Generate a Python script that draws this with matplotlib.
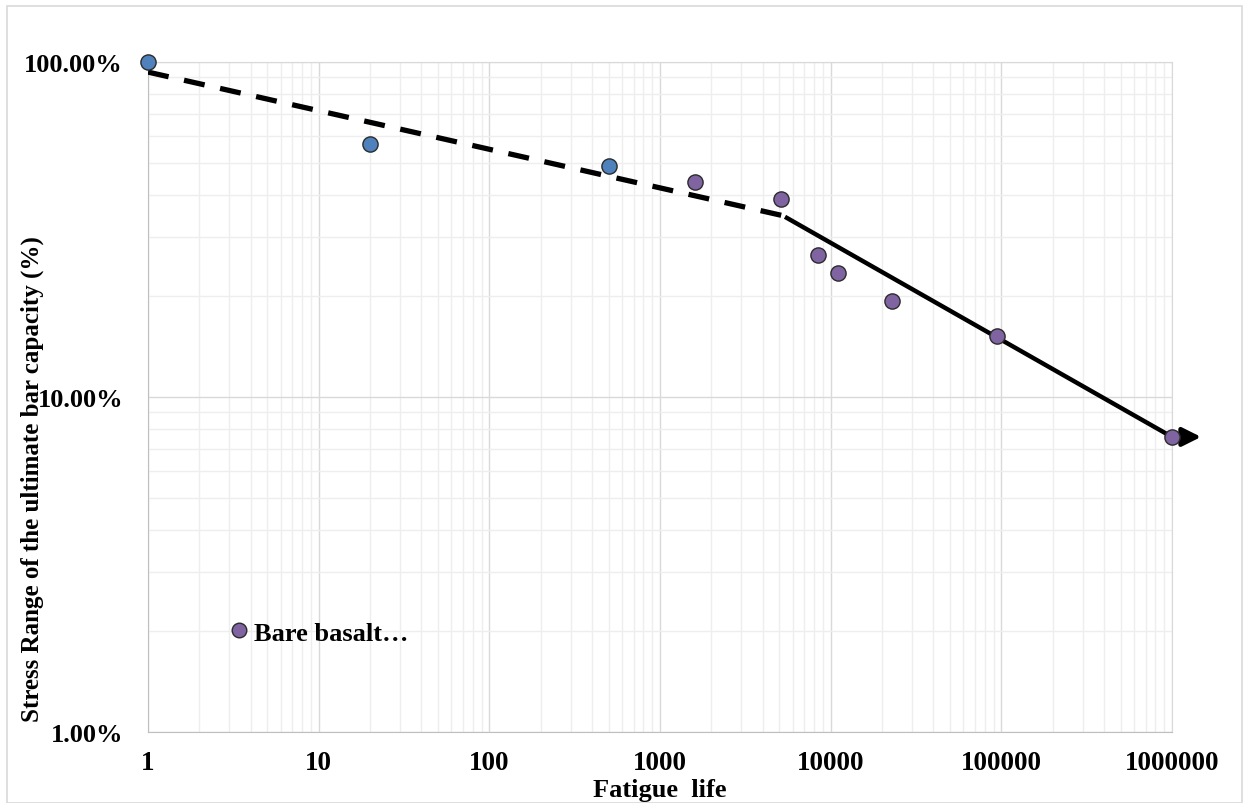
import matplotlib
matplotlib.use("Agg")
import matplotlib.pyplot as plt
from matplotlib.ticker import FixedLocator, FuncFormatter, LogLocator, NullFormatter
from matplotlib.lines import Line2D
from matplotlib.patches import Rectangle

plt.rcParams['font.family'] = ['Liberation Serif', 'DejaVu Serif']
plt.rcParams['font.weight'] = 'bold'

# Data
blue_life = [1, 20, 500]
blue_stress = [1.00, 0.569, 0.489]
purple_life = [1600, 5100, 8400, 11000, 22800, 94000, 1000000]
purple_stress = [0.438, 0.390, 0.265, 0.235, 0.194, 0.152, 0.076]
dash_life = [1, 5770]
dash_stress = [0.933, 0.344]
solid_life = [5400, 1000000]
solid_stress = [0.345, 0.076]
arrow_end_life = 1.48e6
legend_label = "Bare basalt…"
x_ticks = [1, 10, 100, 1000, 10000, 100000, 1000000]
y_ticks = [0.01, 0.1, 1.0]

fig = plt.figure(figsize=(12.44, 8.04), dpi=100)
ax = fig.add_axes([148/1244, 1-733/804, 1024/1244, 670/804])
ax.set_xscale('log')
ax.set_yscale('log')
ax.set_xlim(1, 1e6)
ax.set_ylim(0.01, 1.0)

ax.grid(True, which='major', color='#d9d9d9', lw=1.0)
ax.grid(True, which='minor', color='#eeeeee', lw=1.0)
ax.set_axisbelow(True)
ax.xaxis.set_minor_locator(LogLocator(base=10, subs=range(2, 10), numticks=20))
ax.yaxis.set_minor_locator(LogLocator(base=10, subs=range(2, 10), numticks=20))
ax.xaxis.set_minor_formatter(NullFormatter())
ax.yaxis.set_minor_formatter(NullFormatter())
ax.xaxis.set_major_locator(FixedLocator(x_ticks))
ax.yaxis.set_major_locator(FixedLocator(y_ticks))
ax.xaxis.set_major_formatter(FuncFormatter(lambda v, p: f"{int(round(v))}"))
ax.yaxis.set_major_formatter(FuncFormatter(lambda v, p: f"{v*100:.2f}%"))
ax.tick_params(which='both', length=0)
ax.tick_params(axis='x', pad=13, labelsize=19.5)
ax.tick_params(axis='y', pad=18, labelsize=19)
for s in ax.spines.values():
    s.set_color('#d9d9d9')
for s in ['left', 'bottom']:
    ax.spines[s].set_color('#bfbfbf')

ax.plot(dash_life, dash_stress, color='black', lw=3.8, dashes=(4, 3.0),
        solid_capstyle='butt', zorder=3)
ax.plot(solid_life, solid_stress, color='black', lw=3.2, zorder=3,
        solid_capstyle='butt')
ax.annotate('', xy=(arrow_end_life, solid_stress[-1]),
            xytext=(solid_life[-1], solid_stress[-1]),
            arrowprops=dict(arrowstyle='-|>', color='black', lw=3.2,
                            mutation_scale=28, shrinkA=0, shrinkB=0),
            annotation_clip=False, zorder=4)

ax.scatter(blue_life, blue_stress, s=120, color='#4f81bd', edgecolor='#2b2b2b',
           lw=1.0, zorder=5, clip_on=False)
ax.scatter(purple_life, purple_stress, s=120, color='#8064a2', edgecolor='#2b2b2b',
           lw=1.0, zorder=5, clip_on=False)

h = Line2D([], [], marker='o', ls='none', markersize=10.5,
           markerfacecolor='#8064a2', markeredgecolor='#2b2b2b', markeredgewidth=1.0)
ax.legend([h], [legend_label], loc='center left', bbox_to_anchor=(0.076, 0.148),
          frameon=False, handletextpad=0.05, borderpad=0,
          borderaxespad=0, handlelength=1.0,
          prop={'family': 'Liberation Serif', 'weight': 'bold', 'size': 19})

ax.set_xlabel('Fatigue  life', fontsize=19, fontweight='bold')
ax.xaxis.set_label_coords(0.5, -0.069)
ax.set_ylabel('Stress Range of the ultimate bar capacity (%)', fontsize=18,
              fontweight='bold', va='center')
ax.yaxis.set_label_coords(-0.113, 0.379)

fig.patches.append(Rectangle((7/1244, 0), 1 - 7/1244 - 2/1244, 1 - 7/804,
                             transform=fig.transFigure, fill=False,
                             edgecolor='#d9d9d9', lw=1.2))

fig.savefig('out.png', dpi=100)
